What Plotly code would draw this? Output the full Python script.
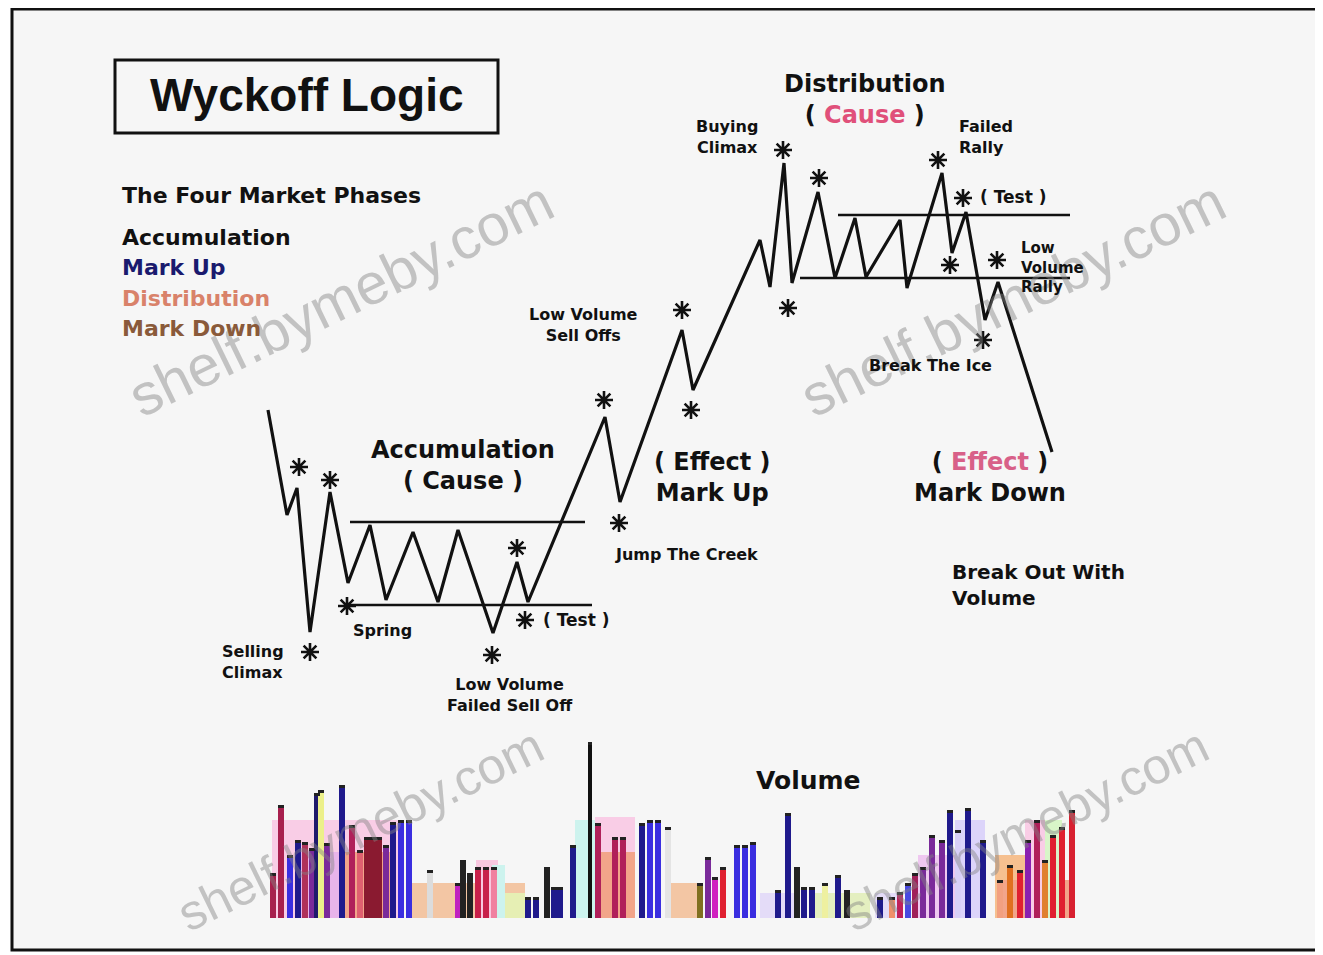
import plotly.graph_objects as go

# ---------------- data ----------------
# price path (time index, price level)
path_t = [268, 287, 297, 310, 330, 348, 370, 386, 413, 438, 458, 493, 517, 528, 605, 620,
          682, 693, 760, 770, 784, 792, 818, 835, 855, 866, 900, 907, 942, 952, 966, 985, 998, 1052]
path_p = [545, 440, 467, 323, 463, 372, 430, 355, 423, 353, 425, 322, 393, 353, 538, 453,
          625, 565, 715, 668, 792, 672, 763, 677, 737, 678, 735, 667, 782, 702, 743, 635, 673, 503]

# trading range lines
acc_top_t = [350, 585]; acc_top_p = [433, 433]
acc_bot_t = [348, 592]; acc_bot_p = [350, 350]
dis_top_t = [838, 1070]; dis_top_p = [740, 740]
dis_bot_t = [800, 1070]; dis_bot_p = [677, 677]

# event markers (asterisks)
star_t = [299, 330, 310, 347, 492, 517, 525, 604, 619, 682, 691, 783, 819, 788, 938, 963, 950, 997, 983]
star_p = [488, 475, 303, 349, 300, 407, 335, 555, 432, 645, 545, 805, 777, 647, 795, 757, 690, 695, 615]

# volume: narrow bars
vol_t = [273, 281, 290, 298, 305, 312, 317, 321, 327, 342, 352, 360, 367, 373, 379, 386, 393, 401, 409,
         430, 458, 463, 470, 478, 486, 494, 528, 536, 547, 554, 560, 573, 590, 598, 615, 623, 642, 650, 658,
         668, 700, 708, 715, 723, 737, 745, 753, 778, 788, 797, 804, 812, 825, 838, 847,
         880, 892, 900, 908, 915, 923, 932, 942, 950, 958, 968, 983, 1000, 1010, 1020, 1028, 1037, 1045,
         1053, 1062, 1072]
vol_v = [45, 113, 63, 78, 76, 70, 125, 128, 75, 133, 93, 68, 81, 81, 81, 73, 96, 98, 98,
         48, 35, 58, 45, 51, 51, 51, 21, 21, 51, 31, 31, 73, 176, 95, 81, 81, 95, 98, 98,
         91, 35, 61, 41, 51, 73, 73, 76, 28, 105, 51, 31, 31, 35, 43, 28,
         21, 21, 26, 35, 45, 51, 83, 78, 108, 88, 110, 78, 38, 53, 48, 78, 98, 58,
         83, 91, 108]
vol_c = ["#a8204e", "#a8204e", "#3a2ee0", "#1f1a8c", "#b0305a", "#7a2a9a", "#1f1a6c", "#ecf08a", "#7a2a9a",
         "#1f1a8c", "#b0205a", "#e06070", "#8a1a30", "#8a1a30", "#8a1a30", "#7a2a9a", "#1f1a8c", "#3a2ee0",
         "#3a2ee0", "#dcdcdc", "#c020c0", "#222222", "#222222", "#c8204a", "#c8204a", "#f080a0",
         "#1f1a8c", "#1f1a8c", "#222222", "#1f1a8c", "#1f1a8c", "#1f1a8c", "#111111", "#b0205a",
         "#b0205a", "#b0205a", "#1f1a8c", "#3a2ee0", "#3a2ee0", "#e4e4e4", "#807020", "#7a2a9a",
         "#d020c0", "#e02030", "#3a2ee0", "#3a2ee0", "#3a2ee0", "#1f1a8c", "#1f1a8c", "#222222",
         "#1f1a8c", "#1f1a8c", "#eef0a0", "#1f1a8c", "#222222", "#1f1a8c", "#f0906a", "#c0205a",
         "#4a4ae0", "#a0205a", "#7a2a9a", "#7a2a9a", "#7a2a9a", "#1f1a8c", "#d8d0f8", "#1f1a8c",
         "#1f1a8c", "#f2a080", "#e07020", "#e02030", "#8a20b0", "#b0205a", "#e08030", "#e02030",
         "#e02030", "#d82030"]

# volume: wide pastel blocks
blk_t0 = [272, 300, 345, 410, 476, 492, 505, 575, 595, 595, 665, 760, 815, 875, 918, 955, 995, 1000, 1025, 1045]
blk_t1 = [400, 345, 395, 525, 498, 505, 525, 600, 635, 635, 698, 800, 870, 900, 960, 985, 1030, 1075, 1045, 1062]
blk_v = [98, 66, 66, 35, 58, 53, 25, 98, 101, 66, 35, 25, 25, 25, 63, 98, 63, 38, 98, 98]
blk_c = ["#f9cde6", "#e8b4ea", "#f2a58a", "#f3c6a4", "#f8c8e0", "#cdf3ee", "#e6efb4", "#cdf3ee",
         "#f9cde6", "#f2a58a", "#f3c6a4", "#e4dcf8", "#e4efc0", "#e4dcf8", "#efc8f0", "#dcd4fa",
         "#f6c090", "#f2a58a", "#f9cde6", "#d8f5c8"]

legend_items = ["Accumulation", "Mark Up", "Distribution", "Mark Down"]
legend_colors = ["#111111", "#1a1a6e", "#d9826a", "#8a5a3a"]

title_box = [115, 498, 822, 895]

W, H = 1323, 955
OFF = 8  # page body margin compensation
FONT = "DejaVu Sans"

fig = go.Figure()

bar_w = [4 if v > 150 else 6 for v in vol_v]

# volume blocks
fig.add_trace(go.Bar(
    x=[(a + b) / 2 for a, b in zip(blk_t0, blk_t1)], y=blk_v,
    width=[b - a for a, b in zip(blk_t0, blk_t1)],
    marker=dict(color=blk_c, line=dict(width=0)), xaxis="x", yaxis="y2", hoverinfo="skip"))
# narrow bars
fig.add_trace(go.Bar(
    x=vol_t, y=vol_v, width=bar_w,
    marker=dict(color=vol_c, line=dict(width=0)), xaxis="x", yaxis="y2", hoverinfo="skip"))
# dark caps
fig.add_trace(go.Bar(
    x=vol_t, y=[3] * len(vol_t), base=[v - 3 for v in vol_v], width=bar_w,
    marker=dict(color="#222222", line=dict(width=0)), xaxis="x", yaxis="y2", hoverinfo="skip"))

# range lines
for tt, pp in [(acc_top_t, acc_top_p), (acc_bot_t, acc_bot_p), (dis_top_t, dis_top_p), (dis_bot_t, dis_bot_p)]:
    fig.add_trace(go.Scatter(x=tt, y=pp, mode="lines", line=dict(color="#111111", width=2.5),
                             hoverinfo="skip"))

# price path
fig.add_trace(go.Scatter(x=path_t, y=path_p, mode="lines", line=dict(color="#111111", width=3.2),
                         hoverinfo="skip"))

# stars
fig.add_trace(go.Scatter(x=star_t, y=star_p, mode="markers",
                         marker=dict(symbol="asterisk-open", size=15, color="#111111",
                                     line=dict(color="#111111", width=2.6)),
                         hoverinfo="skip"))

ann = []


def add(text, x, y, size, xanchor="center", color="#111111", family=FONT, weight="bold"):
    ann.append(dict(text=text, x=x, y=y, xref="x", yref="y", showarrow=False, xanchor=xanchor,
                    yanchor="middle", align=xanchor if xanchor != "center" else "center",
                    font=dict(family=family, size=size, color=color, weight=weight)))


# watermark text (drawn first so labels sit on top)
for (wx, wy, ws) in [(340, 657, 58), (1012, 657, 58), (360, 125, 50), (1025, 125, 50)]:
    ann.append(dict(text="shelf.bymeby.com", x=wx, y=wy, xref="x", yref="y", showarrow=False,
                    textangle=-26, font=dict(family="Liberation Sans", size=ws, color="rgba(130,130,130,0.45)")))

# title
add("Wyckoff Logic", 307, 860, 46, family="Liberation Sans")
# legend
add("The Four Market Phases", 120, 760, 22, xanchor="left")
for i, (t, c) in enumerate(zip(legend_items, legend_colors)):
    add(t, 120, [718, 688, 657, 627][i], 22, xanchor="left", color=c)

# big labels
add("Accumulation<br>( Cause )", 463, 490, 24)
add("Distribution<br>( <span style='color:#e0507a'>Cause</span> )", 865, 856, 24)
add("( Effect )<br>Mark Up", 712, 478, 24)
add("( <span style='color:#d86088'>Effect</span> )<br>Mark Down", 990, 478, 24)
add("Break Out With<br>Volume", 950, 370, 20, xanchor="left")
add("Volume", 808, 175, 25)

# small labels
add("Selling<br>Climax", 220, 293, 16, xanchor="left")
add("Spring", 351, 325, 16, xanchor="left")
add("Low Volume<br>Failed Sell Off", 510, 260, 16)
add("( Test )", 541, 335, 17, xanchor="left")
add("Jump The Creek", 613, 401, 16, xanchor="left")
add("Low Volume<br>Sell Offs", 583, 630, 16)
add("Buying<br>Climax", 727, 818, 16)
add("Failed<br>Rally", 957, 818, 16, xanchor="left")
add("( Test )", 978, 758, 17, xanchor="left")
add("Low<br>Volume<br>Rally", 1019, 688, 15, xanchor="left")
add("Break The Ice", 867, 590, 16, xanchor="left")

shapes = [
    dict(type="rect", xref="paper", yref="paper",
         x0=(12 - OFF) / W, x1=(1320 - OFF) / W, y0=1 - (950 - OFF) / H, y1=1 - (9 - OFF) / H,
         line=dict(color="#111111", width=3), fillcolor="#f6f6f6", layer="below"),
    dict(type="rect", xref="x", yref="y", x0=title_box[0], x1=title_box[1], y0=title_box[2], y1=title_box[3],
         line=dict(color="#111111", width=3), fillcolor="rgba(0,0,0,0)"),
]

fig.update_layout(
    width=W, height=H, margin=dict(l=0, r=0, t=0, b=0),
    paper_bgcolor="#ffffff", plot_bgcolor="rgba(0,0,0,0)",
    showlegend=False, barmode="overlay", bargap=0,
    xaxis=dict(range=[OFF, W + OFF], visible=False, domain=[0, 1], fixedrange=True),
    yaxis=dict(range=[-OFF, H - OFF], visible=False, domain=[0, 1], fixedrange=True),
    yaxis2=dict(range=[0, 180], visible=False,
                domain=[1 - (918 - OFF) / H, 1 - (738 - OFF) / H], anchor="x", fixedrange=True),
    annotations=ann, shapes=shapes,
)

fig.write_html("out.html")
